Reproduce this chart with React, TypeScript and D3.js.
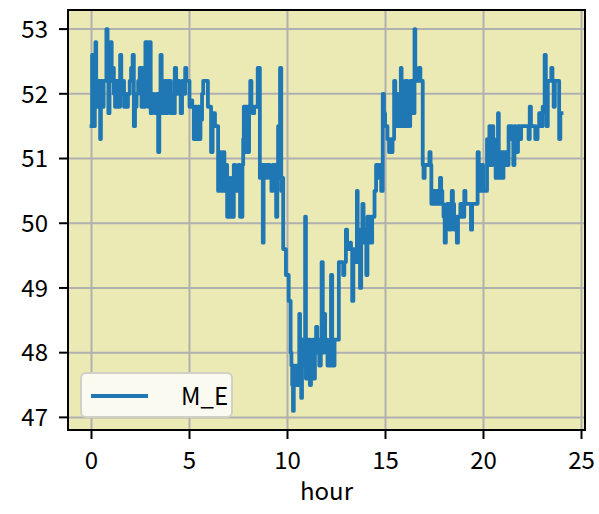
import React from 'react';
import * as d3 from 'd3';

// Time in hours and the M_E reading
const hours: number[] = [
  0.00, 0.03, 0.10, 0.17, 0.20, 0.24, 0.30, 0.40, 0.44, 0.48, 0.56, 0.62, 0.72, 0.76, 0.82, 0.86, 0.92, 0.97,
  1.03, 1.08, 1.14, 1.20, 1.26, 1.34, 1.40, 1.46, 1.52, 1.58, 1.66, 1.72, 1.80, 1.86, 1.95,
  2.02, 2.10, 2.16, 2.22, 2.30, 2.38, 2.46, 2.55, 2.62, 2.70, 2.75, 2.85, 2.90, 2.97,
  3.02, 3.10, 3.18, 3.26, 3.32, 3.40, 3.46, 3.52, 3.58, 3.64, 3.70, 3.76, 3.84, 3.90, 3.98,
  4.05, 4.12, 4.18, 4.25, 4.32, 4.40, 4.48, 4.55, 4.62, 4.70, 4.78, 4.84, 4.92,
  5.00, 5.08, 5.14, 5.22, 5.28, 5.36, 5.42, 5.50, 5.56, 5.64, 5.70, 5.85, 5.94,
  6.02, 6.10, 6.18, 6.24, 6.30, 6.40, 6.46, 6.56, 6.62, 6.68, 6.72, 6.78, 6.86, 6.92,
  7.02, 7.06, 7.12, 7.20, 7.26, 7.34, 7.42, 7.50, 7.58, 7.66, 7.70, 7.74, 7.77, 7.84, 7.88, 7.92,
  8.00, 8.04, 8.10, 8.16, 8.22, 8.30, 8.40, 8.48, 8.56, 8.59, 8.62, 8.70, 8.74, 8.78, 8.86, 8.94,
  9.02, 9.10, 9.18, 9.24, 9.30, 9.38, 9.42, 9.48, 9.52, 9.56, 9.62, 9.68, 9.74, 9.78, 9.86, 9.92, 9.98,
  10.06, 10.12, 10.16, 10.20, 10.24, 10.28, 10.32, 10.36, 10.42, 10.46, 10.52, 10.56, 10.60, 10.64, 10.70, 10.74, 10.80, 10.86, 10.90, 10.94,
  11.00, 11.06, 11.10, 11.14, 11.20, 11.26, 11.32, 11.40, 11.46, 11.52, 11.58, 11.62, 11.70, 11.74, 11.80, 11.86, 11.92,
  12.00, 12.04, 12.10, 12.16, 12.22, 12.28, 12.34, 12.40, 12.48, 12.54, 12.62, 12.70, 12.78, 12.84, 12.90, 12.98,
  13.04, 13.12, 13.18, 13.24, 13.30, 13.36, 13.42, 13.48, 13.54, 13.58, 13.64, 13.70, 13.76, 13.82, 13.88, 13.96,
  14.02, 14.08, 14.14, 14.20, 14.26, 14.32, 14.38, 14.44, 14.52, 14.58, 14.66, 14.72, 14.78, 14.86, 14.92, 14.98,
  15.04, 15.10, 15.18, 15.24, 15.30, 15.36, 15.44, 15.50, 15.56, 15.62, 15.68, 15.74, 15.78, 15.82, 15.86, 15.90, 15.96,
  16.02, 16.08, 16.12, 16.20, 16.26, 16.32, 16.36, 16.42, 16.48, 16.52, 16.62, 16.70, 16.78, 16.86, 16.90, 16.94,
  17.00, 17.10, 17.20, 17.24, 17.30, 17.34, 17.40, 17.48, 17.54, 17.60, 17.66, 17.72, 17.78, 17.84, 17.90, 17.96,
  18.02, 18.08, 18.14, 18.20, 18.26, 18.32, 18.38, 18.44, 18.50, 18.58, 18.64, 18.70, 18.76, 18.82, 18.90, 18.96,
  19.02, 19.08, 19.16, 19.22, 19.30, 19.36, 19.42, 19.50, 19.56, 19.62, 19.70, 19.76, 19.80, 19.86, 19.92, 19.98,
  20.06, 20.14, 20.18, 20.24, 20.30, 20.36, 20.44, 20.50, 20.56, 20.62, 20.68, 20.74, 20.78, 20.84, 20.90, 20.96,
  21.02, 21.10, 21.16, 21.22, 21.28, 21.34, 21.40, 21.46, 21.52, 21.58, 21.64, 21.70, 21.76, 21.84, 21.92,
  22.00, 22.08, 22.16, 22.24, 22.30, 22.36, 22.42, 22.48, 22.56, 22.64, 22.70, 22.76, 22.84, 22.90, 22.96,
  23.02, 23.08, 23.12, 23.18, 23.22, 23.28, 23.34, 23.42, 23.46, 23.52, 23.58, 23.64, 23.70, 23.76, 23.82, 23.86, 23.92, 23.98,
];

const values: number[] = [
  51.5, 52.6, 51.5, 52.6, 52.8, 51.8, 52.2, 52.2, 51.3, 52.2, 51.8, 52.2, 52.2, 53.0, 52.2, 51.7, 52.2, 52.8,
  52.2, 52.4, 52.0, 51.8, 52.2, 52.2, 51.8, 52.6, 52.0, 52.2, 51.8, 52.0, 51.8, 52.0, 52.2,
  52.4, 52.6, 51.5, 51.8, 52.0, 52.2, 52.4, 51.8, 52.4, 51.8, 52.8, 52.8, 51.8, 52.8,
  51.7, 52.0, 51.8, 51.7, 52.0, 51.1, 51.9, 52.6, 51.7, 52.2, 51.7, 52.2, 51.7, 52.2, 52.2,
  51.7, 52.0, 51.7, 52.4, 52.0, 52.2, 52.0, 51.7, 52.2, 52.0, 52.4, 52.2, 52.2,
  51.8, 51.9, 51.8, 51.3, 51.8, 51.3, 51.8, 51.3, 51.6, 52.0, 52.2, 52.2, 51.8,
  51.8, 51.1, 51.7, 51.7, 51.5, 51.5, 50.5, 51.1, 50.5, 50.5, 51.1, 50.5, 50.9, 50.1,
  50.1, 50.7, 50.1, 50.1, 50.9, 50.5, 50.5, 50.9, 50.1, 50.1, 50.9, 51.3, 51.8, 51.8, 51.1, 51.8,
  51.1, 51.8, 52.2, 51.8, 51.7, 51.8, 51.8, 52.4, 52.4, 50.7, 50.9, 50.9, 49.7, 50.9, 50.7, 50.9,
  50.9, 50.7, 50.5, 50.9, 50.7, 50.9, 50.1, 50.7, 51.5, 50.7, 52.4, 50.5, 50.7, 49.6, 49.6, 49.2, 49.2,
  48.8, 48.8, 48.0, 47.8, 47.5, 47.1, 47.8, 47.5, 47.8, 47.5, 47.8, 47.5, 48.6, 47.8, 47.3, 48.2, 47.8, 48.2, 50.1, 47.6,
  48.2, 47.8, 48.2, 47.5, 48.0, 48.2, 47.6, 48.2, 48.4, 48.0, 48.2, 47.8, 48.2, 49.4, 48.0, 48.6, 48.2,
  48.2, 47.8, 48.0, 47.8, 49.2, 48.0, 47.8, 48.2, 48.2, 48.2, 49.4, 49.4, 49.4, 49.2, 49.4, 49.9,
  49.7, 49.6, 49.7, 49.6, 48.8, 49.6, 49.4, 49.6, 50.5, 49.4, 49.9, 49.0, 49.9, 50.3, 49.7, 49.9,
  49.2, 50.1, 49.7, 50.1, 49.7, 50.1, 50.1, 50.5, 50.9, 50.9, 50.7, 50.9, 50.5, 52.0, 51.7, 51.5,
  51.5, 51.3, 51.1, 51.3, 51.1, 51.3, 52.2, 51.5, 52.0, 51.5, 52.0, 51.5, 52.4, 51.5, 52.2, 51.5, 51.5,
  52.2, 52.2, 51.5, 51.5, 52.2, 52.2, 51.7, 51.7, 53.0, 52.2, 52.2, 52.4, 52.2, 52.2, 50.9, 50.7,
  50.9, 50.9, 50.9, 51.1, 50.9, 50.3, 50.5, 50.5, 50.3, 50.5, 50.5, 50.3, 50.7, 50.5, 50.3, 50.1,
  49.7, 50.1, 50.3, 50.3, 49.9, 50.1, 50.5, 50.3, 49.9, 50.1, 49.7, 50.1, 50.1, 50.3, 50.3, 50.1,
  50.5, 50.3, 50.3, 50.3, 50.3, 49.9, 50.3, 50.3, 50.3, 50.3, 51.1, 50.5, 50.9, 50.5, 50.9, 50.5,
  50.5, 50.5, 51.3, 50.9, 51.5, 50.9, 51.5, 51.3, 50.9, 50.7, 50.9, 51.7, 50.7, 50.9, 51.1, 50.7,
  51.1, 50.9, 51.1, 50.9, 51.5, 51.3, 51.5, 51.3, 50.9, 51.5, 51.3, 51.1, 51.5, 51.3, 51.5,
  51.5, 51.5, 51.5, 51.5, 51.3, 51.8, 51.5, 51.5, 51.5, 51.3, 51.3, 51.5, 51.7, 51.5, 51.5,
  51.8, 51.7, 52.6, 51.8, 51.5, 52.2, 52.2, 52.2, 52.4, 52.2, 51.8, 52.2, 52.2, 52.2, 52.2, 51.3, 51.7, 51.7,
];

const xTicks: number[] = [0, 5, 10, 15, 20, 25];
const yTicks: number[] = [47, 48, 49, 50, 51, 52, 53];
const seriesName = 'M_E';
const xLabel = 'hour';

const FONT = "'Noto Sans CJK JP', 'Noto Sans', sans-serif";

export default function App() {
  const W = 599;
  const H = 514;
  const left = 68;
  const right = 585;
  const top = 10;
  const bottom = 430;

  const data = hours.map((h, i) => ({ h, v: values[i] }));
  const [xMin, xMax] = d3.extent(hours) as [number, number];
  const [yMin, yMax] = d3.extent(values) as [number, number];
  const xm = (xMax - xMin) * 0.05;
  const ym = (yMax - yMin) * 0.05;

  const x = d3.scaleLinear().domain([xMin - xm, xMax + xm]).range([left, right]);
  const y = d3.scaleLinear().domain([yMin - ym, yMax + ym]).range([bottom, top]);

  const line = d3
    .line<{ h: number; v: number }>()
    .x((d) => x(d.h))
    .y((d) => y(d.v))
    .curve(d3.curveStepAfter);

  const lineColor = '#1f77b4';
  const gridColor = '#b0b0b0';
  const fs = 24;

  return (
    <svg
      width={W}
      height={H}
      style={{ position: 'absolute', left: 0, top: 0, background: '#ffffff' }}
      fontFamily={FONT}
    >
      <defs>
        <clipPath id="plotclip">
          <rect x={left} y={top} width={right - left} height={bottom - top} />
        </clipPath>
      </defs>
      <rect x={0} y={0} width={W} height={H} fill="#ffffff" />
      <rect x={left} y={top} width={right - left} height={bottom - top} fill="#eceab4" />

      {/* grid */}
      <g clipPath="url(#plotclip)">
        {xTicks.map((t) => (
          <line key={'gx' + t} x1={x(t)} x2={x(t)} y1={top} y2={bottom} stroke={gridColor} strokeWidth={2} />
        ))}
        {yTicks.map((t) => (
          <line key={'gy' + t} x1={left} x2={right} y1={y(t)} y2={y(t)} stroke={gridColor} strokeWidth={2} />
        ))}
      </g>

      {/* series */}
      <g clipPath="url(#plotclip)">
        <path d={line(data) || ''} fill="none" stroke={lineColor} strokeWidth={3.8} strokeLinejoin="round" strokeLinecap="square" />
      </g>

      {/* spines */}
      <rect x={left} y={top} width={right - left} height={bottom - top} fill="none" stroke="#000" strokeWidth={2} />

      {/* x ticks */}
      {xTicks.map((t) => (
        <g key={'xt' + t}>
          <line x1={x(t)} x2={x(t)} y1={bottom} y2={bottom + 9} stroke="#000" strokeWidth={2} />
          <text x={x(t)} y={469} textAnchor="middle" fontSize={fs} fill="#000">
            {t}
          </text>
        </g>
      ))}

      {/* y ticks */}
      {yTicks.map((t) => (
        <g key={'yt' + t}>
          <line x1={left - 9} x2={left} y1={y(t)} y2={y(t)} stroke="#000" strokeWidth={2} />
          <text x={48} y={y(t) + 8.8} textAnchor="end" fontSize={fs} fill="#000">
            {t}
          </text>
        </g>
      ))}

      {/* x label */}
      <text x={(left + right) / 2} y={500} textAnchor="middle" fontSize={fs} fill="#000">
        {xLabel}
      </text>

      {/* legend */}
      <g>
        <rect x={81} y={373} width={151} height={44} rx={5} ry={5} fill="#fbfaf0" stroke="#d0d0c4" strokeWidth={2} />
        <line x1={91} x2={148} y1={396} y2={396} stroke={lineColor} strokeWidth={3.8} />
        <text x={181} y={405} fontSize={fs} fill="#000">
          {seriesName}
        </text>
      </g>
    </svg>
  );
}
